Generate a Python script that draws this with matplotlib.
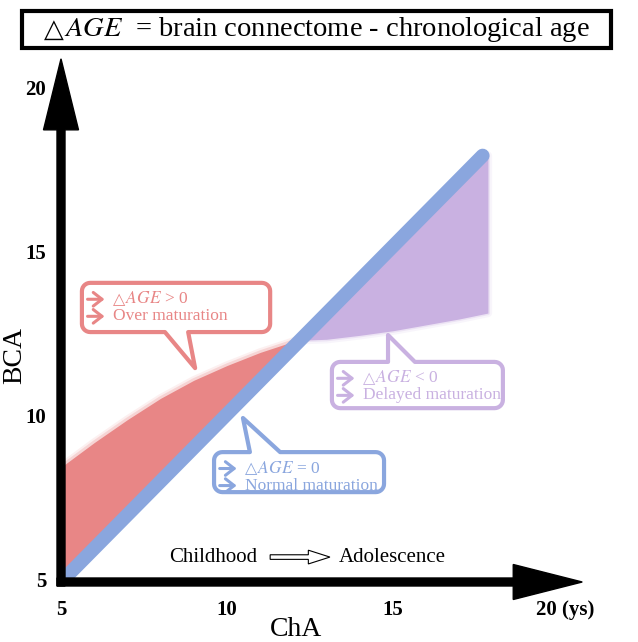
import numpy as np
import matplotlib
matplotlib.use("Agg")
import matplotlib.pyplot as plt
from matplotlib.patches import FancyArrow, FancyArrowPatch, Rectangle, PathPatch
from matplotlib.path import Path

plt.rcParams['font.family'] = ['Liberation Serif', 'DejaVu Sans']
plt.rcParams['mathtext.fontset'] = 'stix'

# ---- data (years) ----
cha_normal = [5.0, 17.7]
bca_normal = [5.0, 18.0]

cha_over = [5.0, 6.0, 7.0, 8.0, 9.0, 10.0, 11.0, 12.2]
bca_over = [8.5, 9.25, 9.95, 10.6, 11.15, 11.6, 12.0, 12.4]

cha_delay = [12.2, 13.0, 14.0, 15.0, 16.0, 17.0, 17.86]
bca_delay = [12.37, 12.4, 12.52, 12.66, 12.84, 13.02, 13.2]

x_ticks = [5, 10, 15]
y_ticks = [5, 10, 15, 20]
x_last_label = '20 (ys)'

red = '#e88686'
blue = '#8aa6de'
purple = '#c9b1e1'

# pixels per year on each axis
PX_X = 33.2
PX_Y = 32.8

fig = plt.figure(figsize=(6.38, 6.42), dpi=100)
ax = fig.add_axes([0, 0, 1, 1])
ax.set_xlim(5 - 61 / PX_X, 5 + (638 - 61) / PX_X)
ax.set_ylim(5 - (642 - 582) / PX_Y, 5 + 582 / PX_Y)
ax.axis('off')
renderer = fig.canvas.get_renderer()

clip = Rectangle((5, 5), 30, 30, transform=ax.transData)


def line_at(x):
    return np.interp(x, cha_normal, bca_normal)


def soft_fill(x, y1, y2, color):
    x = np.array(x)
    for lw, a in [(6, 0.12), (3, 0.25)]:
        p = ax.fill_between(x, y1, y2, facecolor='none', edgecolor=color,
                            lw=lw, alpha=a, zorder=1)
        p.set_clip_path(clip)
    p = ax.fill_between(x, y1, y2, color=color, lw=0, zorder=2)
    p.set_clip_path(clip)


soft_fill(cha_over, line_at(cha_over), bca_over, red)
soft_fill(cha_delay, bca_delay, line_at(cha_delay), purple)

ln, = ax.plot(cha_normal, bca_normal, color=blue, lw=10,
              solid_capstyle='round', zorder=3)
ln.set_clip_path(clip)

# axes arrows
ax.add_patch(FancyArrow(5 - 4 / PX_X, 5, 20.7 - 5 + 4 / PX_X, 0,
                        width=8 / PX_Y, head_width=35 / PX_Y,
                        head_length=69 / PX_X, length_includes_head=True,
                        color='black', zorder=5))
ax.add_patch(FancyArrow(5, 5 - 4 / PX_Y, 0, 20.95 - 5 + 4 / PX_Y,
                        width=8 / PX_X, head_width=35 / PX_X,
                        head_length=71 / PX_Y, length_includes_head=True,
                        color='black', zorder=5))

for v in x_ticks:
    ax.text(v, 4.15, str(v), ha='center', va='center', fontsize=15,
            fontweight='bold')
ax.text(20.2, 4.15, x_last_label, ha='center', va='center', fontsize=15,
        fontweight='bold')
for v in y_ticks:
    ax.text(4.55, v, str(v), ha='right', va='center', fontsize=15,
            fontweight='bold')

ax.text(12.08, 3.55, 'ChA', ha='center', va='center', fontsize=20)
ax.text(3.6, 11.92, 'BCA', ha='center', va='center', fontsize=20,
        rotation=90)

ax.text(9.58, 5.76, 'Childhood', ha='center', va='center', fontsize=15)
ax.add_patch(FancyArrow(11.3, 5.76, 1.8, 0, width=0.14, head_width=0.42,
                        head_length=0.65, length_includes_head=True,
                        facecolor='white', edgecolor='black', lw=0.8))
ax.text(14.97, 5.76, 'Adolescence', ha='center', va='center', fontsize=15)


def delta_text(where, trans, x, y, rest, size, tri_size, **kw):
    # triangle glyph, then the italic AGE and the rest
    t = where.text(x, y, '\u25b3', ha='left', va='center', fontsize=tri_size,
                   family='DejaVu Sans', transform=trans, **kw)
    bb = t.get_window_extent(renderer)
    x2 = trans.inverted().transform((bb.x1, bb.y0))[0]
    where.text(x2, y, '$AGE$' + rest, ha='left', va='center', fontsize=size,
               transform=trans, **kw)


def callout(left, right, bottom, top, side, b0, b1, tip, color, sign, label):
    r = 0.25
    t = np.linspace(0, np.pi / 2, 8)
    verts = [(left + r, top)]
    if side == 'top':
        verts += [(b0, top), tip, (b1, top)]
    verts += [(right - r, top)]
    verts += [(right - r + r * np.sin(a), top - r + r * np.cos(a)) for a in t]
    verts += [(right, bottom + r)]
    verts += [(right - r + r * np.cos(a), bottom + r - r * np.sin(a)) for a in t]
    if side == 'bottom':
        verts += [(b1, bottom), tip, (b0, bottom)]
    verts += [(left + r, bottom)]
    verts += [(left + r - r * np.sin(a), bottom + r - r * np.cos(a)) for a in t]
    verts += [(left, top - r)]
    verts += [(left + r - r * np.cos(a), top - r + r * np.sin(a)) for a in t]
    path = Path(verts + [verts[0]], closed=True)
    ax.add_patch(PathPatch(path, facecolor='white', edgecolor=color, lw=3,
                           joinstyle='round', zorder=6))
    y1 = top - 0.5
    y2 = top - 1.02
    for y in (y1, y2):
        ax.add_patch(FancyArrowPatch((left + 0.17, y), (left + 0.68, y),
                                     arrowstyle='->,head_length=0.45,head_width=0.35',
                                     mutation_scale=14, lw=2.2, color=color,
                                     shrinkA=0, shrinkB=0, zorder=7))
    delta_text(ax, ax.transData, left + 0.93, y1, ' ' + sign + ' 0', 12.5, 11.5,
               color=color, zorder=7)
    ax.text(left + 0.93, y2, label, ha='left', va='center',
            fontsize=12.5, color=color, zorder=7)


callout(5.63, 11.3, 12.62, 14.12, 'bottom', 8.13, 8.83, (9.04, 11.52), red,
        '>', 'Over maturation')
callout(13.16, 18.31, 10.3, 11.71, 'top', 14.85, 15.66, (14.85, 12.53), purple,
        '<', 'Delayed maturation')
callout(9.61, 14.73, 7.74, 8.96, 'top', 10.69, 11.6, (10.48, 10.0), blue,
        '=', 'Normal maturation')

# title box
fig.patches.append(Rectangle((22 / 638, 1 - 48 / 642), 589 / 638, 37 / 642,
                             transform=fig.transFigure, facecolor='white',
                             edgecolor='black', lw=3, zorder=1))
delta_text(fig, fig.transFigure, 44 / 638, 1 - 30 / 642,
           '  = brain connectome - chronological age', 20.5, 18.5, zorder=5)

fig.savefig('out.png', dpi=100)
